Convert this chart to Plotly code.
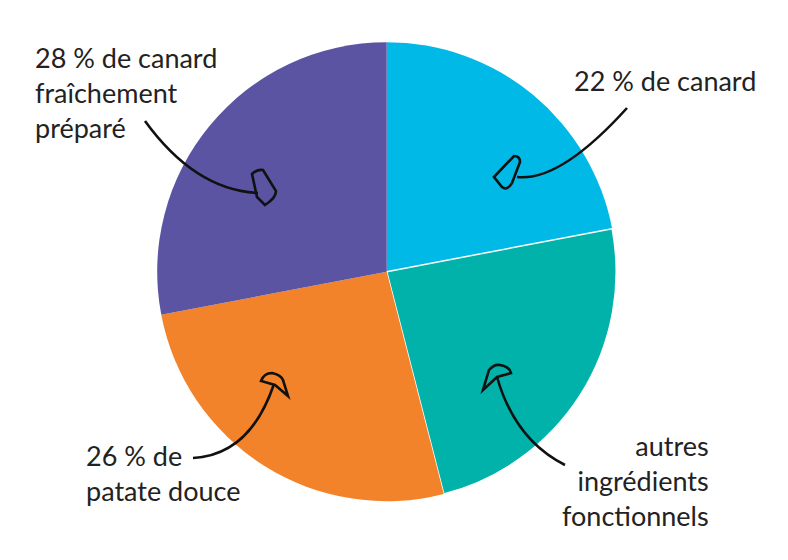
import plotly.graph_objects as go

W, H = 788, 560
OFF = 8  # page body margin offset

labels = ["22 % de canard", "autres ingrédients fonctionnels",
          "26 % de patate douce", "28 % de canard fraîchement préparé"]
values = [22, 24, 26, 28]
colors = ["#00B9E7", "#00B2A9", "#F3832B", "#5B54A3"]
line_widths = [0, 1.5, 0, 0]

# annotation texts
txt_purple = "28 % de canard<br>fraîchement<br>préparé"
txt_blue = "22 % de canard"
txt_teal = "autres<br>ingrédients<br>fonctionnels"
txt_orange = "26 % de<br>patate douce"

def px(x):
    return (x - OFF) / W

def py(y):
    return 1 - (y - OFF) / H

def P(x, y):
    return f"{px(x):.5f},{py(y):.5f}"

def path(cmds):
    out = []
    for c in cmds:
        op, pts = c[0], c[1:]
        out.append(op + " " + " ".join(P(*p) for p in pts))
    return " ".join(out)

arrows = [
    # purple
    path([("M", (145, 121)), ("Q", (195, 190), (258, 193))]),
    path([("M", (252, 174)), ("Q", (257, 169), (263, 170)), ("L", (276, 191)),
          ("Q", (276, 198), (265, 205)), ("L", (257, 197)), ("Z",)]),
    # blue
    path([("M", (627, 108)), ("Q", (560, 182), (517, 177))]),
    path([("M", (494, 177)), ("L", (514, 156)), ("Q", (520, 156), (520, 162)),
          ("L", (512, 183)), ("Q", (507, 191), (502, 187)), ("Z",)]),
    # teal
    path([("M", (565, 465)), ("Q", (515, 440), (497, 377))]),
    path([("M", (483, 390)), ("L", (489, 370)), ("Q", (494, 364), (500, 365)),
          ("Q", (510, 367), (511, 373)), ("L", (497, 377)), ("Z",)]),
    # orange
    path([("M", (193, 458)), ("Q", (250, 455), (274, 384))]),
    path([("M", (261, 381)), ("Q", (264, 373), (272, 373)), ("Q", (281, 375), (283, 380)),
          ("L", (288, 396)), ("L", (275, 385)), ("Z",)]),
]

fig = go.Figure(go.Pie(
    labels=labels,
    values=values,
    sort=False,
    direction="clockwise",
    rotation=0,
    marker=dict(colors=colors, line=dict(color="white", width=line_widths)),
    textinfo="none",
    hoverinfo="skip",
    showlegend=False,
    domain=dict(x=[px(386.7 - 229.5), px(386.7 + 229.5)],
                y=[py(501.2), py(42.2)]),
))

font = dict(family="Lato, 'Open Sans', sans-serif", size=27, color="#222222")

def ann(text, x, y, xanchor, align, yanchor="middle"):
    return dict(text=text, x=px(x), y=py(y), xref="paper", yref="paper",
                xanchor=xanchor, yanchor=yanchor, align=align, showarrow=False, font=font)

fig.update_layout(
    width=W, height=H,
    margin=dict(l=0, r=0, t=0, b=0),
    paper_bgcolor="white", plot_bgcolor="white",
    annotations=[
        ann(txt_purple, 33, 92, "left", "left"),
        ann(txt_blue, 572, 80, "left", "left"),
        ann(txt_teal, 711, 480, "right", "right"),
        ann(txt_orange, 84, 473, "left", "left"),
    ],
    shapes=[dict(type="path", path=p, xref="paper", yref="paper",
                 line=dict(color="#111111", width=2.6), fillcolor="rgba(0,0,0,0)")
            for p in arrows],
)

fig.write_html("out.html")
